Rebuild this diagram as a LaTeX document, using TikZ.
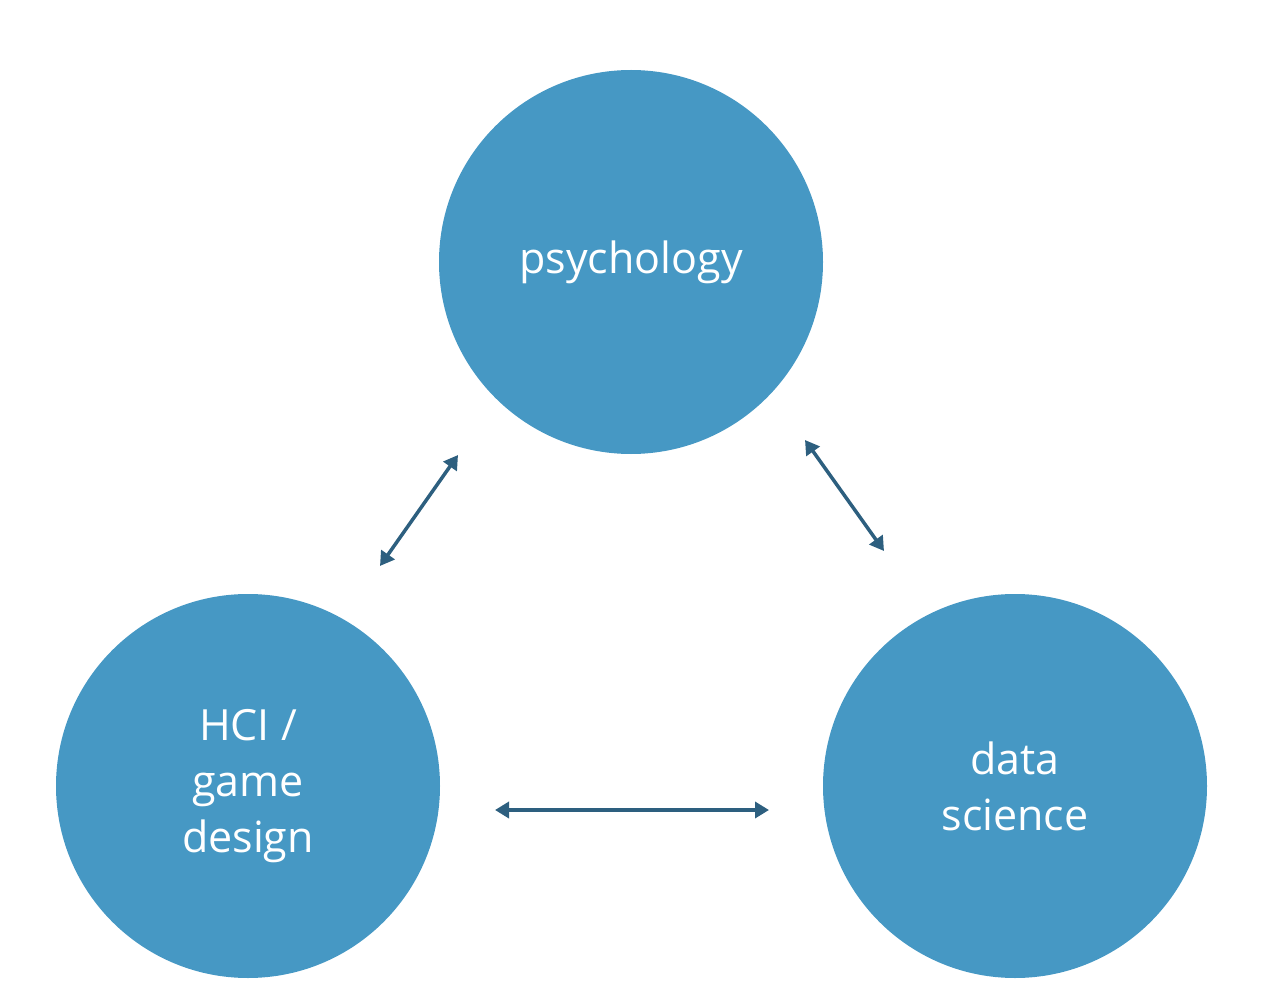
\documentclass[tikz,border=0pt]{standalone}
\usepackage{fontspec}
\setmainfont{Open Sans}
\usepackage{xcolor}
\usetikzlibrary{arrows.meta}
\definecolor{fieldblue}{HTML}{4698C4}
\definecolor{linkblue}{HTML}{2D5F7F}

\begin{document}
\begin{tikzpicture}[x=1pt,y=-1pt,
                field/.style={circle,fill=fieldblue,minimum size=384pt,inner sep=0pt,
                        text=white,align=center,font=\fontsize{43}{56}\selectfont},
                link/.style={draw=linkblue,line width=3.5pt,
                        {Triangle[length=14pt,width=16pt]}-{Triangle[length=14pt,width=16pt]}}]
                \useasboundingbox (0,0) rectangle (1264,1008);
                \node[field] (psy) at (631,262) {\raisebox{-5pt}{psychology}};
                \node[field] (hci) at (248,786) {HCI /\\game\\design};
                \node[field] (data) at (1015,786) {data\\science};
                \coordinate (hciA) at (380,566);
                \coordinate (psyA) at (458,455);
                \coordinate (psyB) at (805,440);
                \coordinate (dataB) at (884,551);
                \coordinate (hciC) at (495,810);
                \coordinate (dataC) at (769,810);
                \draw[link] (hciA) -- (psyA);
                \draw[link] (psyB) -- (dataB);
                \draw[link] (hciC) -- (dataC);
            \end{tikzpicture}
\end{document}
